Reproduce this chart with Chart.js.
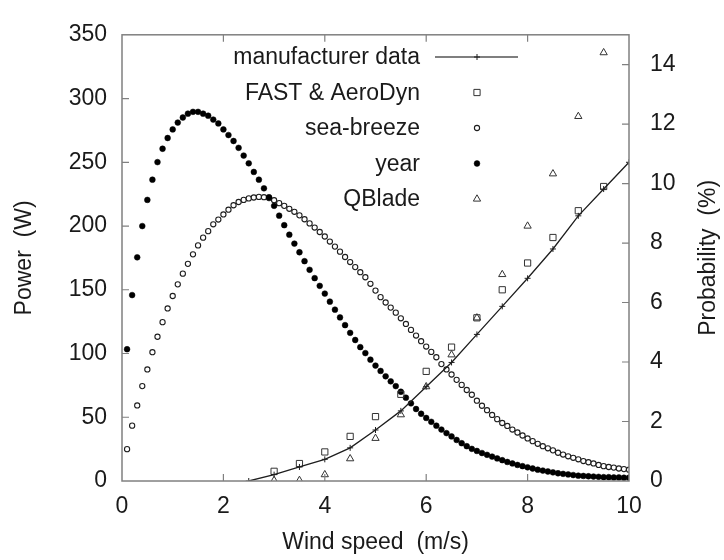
<!DOCTYPE html>
<html>
<head>
<meta charset="utf-8">
<script src="https://cdn.jsdelivr.net/npm/chart.js@4.4.1/dist/chart.umd.min.js"></script>
<style>
  html, body { margin: 0; padding: 0; background: #ffffff; }
  #wrap { width: 724px; height: 560px; }
</style>
</head>
<body>
<div id="wrap"><canvas id="c" width="724" height="560"></canvas></div>
<script>
// ---------------- data ----------------
const seriesLabels = ["manufacturer data", "FAST & AeroDyn", "sea-breeze", "year", "QBlade"];

const mfrSpeed = [2.5, 3.0, 3.5, 4.0, 4.5, 5.0, 5.5, 6.0, 6.5, 7.0, 7.5, 8.0, 8.5, 9.0, 9.5, 10.0];
const mfrPower = [0, 5, 11, 17, 26, 40, 55, 74, 93, 115, 137, 159, 182, 208, 229, 250];

const simSpeed = [3.0, 3.5, 4.0, 4.5, 5.0, 5.5, 6.0, 6.5, 7.0, 7.5, 8.0, 8.5, 9.0, 9.5];
const fastPower = [7.6, 13.7, 22.8, 35, 50.5, 68, 86, 105, 128, 150, 171, 191, 212, 231];
const qbladePower = [0.5, 0.5, 5, 17.5, 33.5, 52, 74, 99, 128, 162, 200, 241, 286, 336];

const probSpeed = [
  0.1, 0.2, 0.3, 0.4, 0.5, 0.6, 0.7, 0.8, 0.9, 1.0,
  1.1, 1.2, 1.3, 1.4, 1.5, 1.6, 1.7, 1.8, 1.9, 2.0,
  2.1, 2.2, 2.3, 2.4, 2.5, 2.6, 2.7, 2.8, 2.9, 3.0,
  3.1, 3.2, 3.3, 3.4, 3.5, 3.6, 3.7, 3.8, 3.9, 4.0,
  4.1, 4.2, 4.3, 4.4, 4.5, 4.6, 4.7, 4.8, 4.9, 5.0,
  5.1, 5.2, 5.3, 5.4, 5.5, 5.6, 5.7, 5.8, 5.9, 6.0,
  6.1, 6.2, 6.3, 6.4, 6.5, 6.6, 6.7, 6.8, 6.9, 7.0,
  7.1, 7.2, 7.3, 7.4, 7.5, 7.6, 7.7, 7.8, 7.9, 8.0,
  8.1, 8.2, 8.3, 8.4, 8.5, 8.6, 8.7, 8.8, 8.9, 9.0,
  9.1, 9.2, 9.3, 9.4, 9.5, 9.6, 9.7, 9.8, 9.9, 10.0
];
const seaBreezeProb = [
  1.07, 1.86, 2.54, 3.19, 3.75, 4.33, 4.85, 5.34, 5.80, 6.22,
  6.61, 6.97, 7.30, 7.62, 7.92, 8.18, 8.40, 8.63, 8.79, 8.96,
  9.12, 9.27, 9.38, 9.45, 9.50, 9.53, 9.55, 9.54, 9.51, 9.44,
  9.34, 9.25, 9.15, 9.05, 8.93, 8.80, 8.66, 8.52, 8.37, 8.22,
  8.05, 7.88, 7.71, 7.53, 7.36, 7.19, 7.02, 6.85, 6.63, 6.40,
  6.18, 6.00, 5.83, 5.66, 5.47, 5.28, 5.08, 4.89, 4.70, 4.52,
  4.34, 4.16, 3.93, 3.75, 3.58, 3.40, 3.23, 3.06, 2.90, 2.70,
  2.53, 2.38, 2.22, 2.08, 1.95, 1.85, 1.73, 1.63, 1.53, 1.43,
  1.34, 1.25, 1.17, 1.10, 1.03, 0.95, 0.89, 0.83, 0.78, 0.73,
  0.67, 0.63, 0.59, 0.54, 0.50, 0.47, 0.45, 0.42, 0.40, 0.38
];
const yearProb = [
  4.43, 6.25, 7.52, 8.57, 9.45, 10.13, 10.72, 11.17, 11.53, 11.82,
  12.05, 12.22, 12.35, 12.41, 12.41, 12.35, 12.28, 12.15, 12.02, 11.82,
  11.63, 11.43, 11.20, 10.94, 10.68, 10.39, 10.13, 9.84, 9.54, 9.25,
  8.92, 8.60, 8.28, 7.98, 7.69, 7.39, 7.10, 6.82, 6.56, 6.30,
  6.03, 5.76, 5.50, 5.24, 4.98, 4.74, 4.50, 4.30, 4.08, 3.88,
  3.70, 3.52, 3.35, 3.19, 3.00, 2.80, 2.61, 2.42, 2.26, 2.12,
  1.99, 1.86, 1.73, 1.61, 1.50, 1.38, 1.27, 1.17, 1.08, 1.01,
  0.94, 0.88, 0.82, 0.76, 0.70, 0.64, 0.59, 0.54, 0.50, 0.46,
  0.42, 0.38, 0.35, 0.32, 0.29, 0.26, 0.24, 0.22, 0.20, 0.18,
  0.17, 0.16, 0.15, 0.14, 0.13, 0.13, 0.12, 0.12, 0.11, 0.11
];

const xTickValues = [0, 2, 4, 6, 8, 10];
const powerTickValues = [0, 50, 100, 150, 200, 250, 300, 350];
const probTickValues = [0, 2, 4, 6, 8, 10, 12, 14];

const xTitle = "Wind speed  (m/s)";
const powerTitle = "Power  (W)";
const probTitle = "Probability  (%)";

// ---------------- styling ----------------
const FONT = "'Liberation Sans', Arial, Helvetica, sans-serif";
const FS = 23;
const TXT = "#1a1a1a";
const AXIS = "#808080";
const INK = "#1e1e1e";

function pts(xs, ys) { return xs.map((x, i) => ({ x: x, y: ys[i] })); }

const datasets = [
  {
    label: seriesLabels[0], data: pts(mfrSpeed, mfrPower), yAxisID: 'yP',
    showLine: true, borderColor: INK, borderWidth: 1.3, backgroundColor: INK,
    pointStyle: 'cross', pointRadius: 3, pointBorderWidth: 1, pointBorderColor: INK, order: 1
  },
  {
    label: seriesLabels[1], data: pts(simSpeed, fastPower), yAxisID: 'yP',
    showLine: false, pointStyle: 'rect', pointRadius: 4.4, pointBorderWidth: 1,
    pointBorderColor: '#333', pointBackgroundColor: 'rgba(255,255,255,0)', order: 2
  },
  {
    label: seriesLabels[2], data: pts(probSpeed, seaBreezeProb), yAxisID: 'yR',
    showLine: false, pointStyle: 'circle', pointRadius: 2.6, pointBorderWidth: 1.1,
    pointBorderColor: INK, pointBackgroundColor: '#ffffff', order: 4
  },
  {
    label: seriesLabels[3], data: pts(probSpeed, yearProb), yAxisID: 'yR',
    showLine: false, pointStyle: 'circle', pointRadius: 2.9, pointBorderWidth: 0.5,
    pointBorderColor: '#000', pointBackgroundColor: '#000', order: 3
  },
  {
    label: seriesLabels[4], data: pts(simSpeed, qbladePower), yAxisID: 'yP',
    showLine: false, pointStyle: 'triangle', pointRadius: 4.2, pointBorderWidth: 1,
    pointBorderColor: '#333', pointBackgroundColor: 'rgba(255,255,255,0)', order: 0
  }
];

function drawMarker(ctx, ds, x, y) {
  const r = ds.pointRadius;
  ctx.save();
  ctx.lineWidth = ds.pointBorderWidth;
  ctx.strokeStyle = ds.pointBorderColor;
  ctx.fillStyle = ds.pointBackgroundColor || ds.backgroundColor;
  ctx.beginPath();
  if (ds.pointStyle === 'circle') {
    ctx.arc(x, y, r, 0, Math.PI * 2);
    ctx.fill(); ctx.stroke();
  } else if (ds.pointStyle === 'rect') {
    const s = Math.SQRT1_2 * r;
    ctx.rect(x - s, y - s, 2 * s, 2 * s);
    ctx.stroke();
  } else if (ds.pointStyle === 'triangle') {
    for (let k = 0; k < 3; k++) {
      const a = k * 2 * Math.PI / 3;
      const px = x + Math.sin(a) * r, py = y - Math.cos(a) * r;
      if (k === 0) ctx.moveTo(px, py); else ctx.lineTo(px, py);
    }
    ctx.closePath(); ctx.stroke();
  } else if (ds.pointStyle === 'cross') {
    ctx.moveTo(x - r, y); ctx.lineTo(x + r, y);
    ctx.moveTo(x, y - r); ctx.lineTo(x, y + r);
    ctx.stroke();
  }
  ctx.restore();
}

const framePlugin = {
  id: 'frame',
  afterDatasetsDraw(chart) {
    const { ctx, chartArea: a, scales } = chart;
    const tl = 7;
    ctx.save();
    ctx.strokeStyle = AXIS;
    ctx.lineWidth = 1.5;
    ctx.strokeRect(a.left, a.top, a.right - a.left, a.bottom - a.top);
    ctx.lineWidth = 1.2;
    ctx.beginPath();
    scales.x.ticks.forEach(t => {
      const px = scales.x.getPixelForValue(t.value);
      if (px <= a.left + 1 || px >= a.right - 1) return;
      ctx.moveTo(px, a.bottom); ctx.lineTo(px, a.bottom - tl);
      ctx.moveTo(px, a.top); ctx.lineTo(px, a.top + tl);
    });
    scales.yP.ticks.forEach(t => {
      const py = scales.yP.getPixelForValue(t.value);
      if (py <= a.top + 1 || py >= a.bottom - 1) return;
      ctx.moveTo(a.left, py); ctx.lineTo(a.left + tl, py);
    });
    scales.yR.ticks.forEach(t => {
      const py = scales.yR.getPixelForValue(t.value);
      if (py <= a.top + 1 || py >= a.bottom - 1) return;
      ctx.moveTo(a.right, py); ctx.lineTo(a.right - tl, py);
    });
    ctx.stroke();
    ctx.restore();
  },
  afterDraw(chart) {
    const { ctx, chartArea: a } = chart;
    ctx.save();
    // right axis title, reading bottom-to-top
    ctx.font = FS + "px " + FONT;
    ctx.fillStyle = TXT;
    ctx.textAlign = 'center';
    ctx.textBaseline = 'middle';
    ctx.translate(709, (a.top + a.bottom) / 2);
    ctx.rotate(-Math.PI / 2);
    ctx.fillText(probTitle, 0, 0);
    ctx.restore();

    // legend
    ctx.save();
    ctx.font = FS + "px " + FONT;
    ctx.fillStyle = TXT;
    ctx.textAlign = 'right';
    ctx.textBaseline = 'middle';
    const textRight = 420, sampleX = 477, lineL = 435, lineR = 518;
    const rowY0 = 57, rowH = 35.5;
    chart.data.datasets.forEach((ds, i) => {
      const y = rowY0 + i * rowH;
      ctx.fillText(ds.label, textRight, y + 1);
      if (ds.showLine) {
        ctx.save();
        ctx.strokeStyle = '#555';
        ctx.lineWidth = 1.3;
        ctx.beginPath(); ctx.moveTo(lineL, y); ctx.lineTo(lineR, y); ctx.stroke();
        ctx.restore();
      }
      drawMarker(ctx, ds, sampleX, y);
    });
    ctx.restore();
  }
};

Chart.defaults.font.family = FONT;
Chart.defaults.color = TXT;

new Chart(document.getElementById('c'), {
  type: 'scatter',
  data: { datasets: datasets },
  options: {
    responsive: false,
    animation: false,
    devicePixelRatio: 1,
    layout: { padding: { top: 20, left: 0, right: 0, bottom: 0 } },
    plugins: { legend: { display: false }, tooltip: { enabled: false } },
    scales: {
      x: {
        type: 'linear', position: 'bottom', min: 0, max: 10,
        afterBuildTicks: s => { s.ticks = xTickValues.map(v => ({ value: v })); },
        afterFit: s => { s.height = 79; },
        grid: { display: false, drawTicks: false },
        border: { display: false },
        ticks: { font: { size: FS }, color: TXT, padding: 12, maxRotation: 0 },
        title: { display: true, text: xTitle, font: { size: FS }, color: TXT, padding: { top: 0, bottom: 4 } }
      },
      yP: {
        type: 'linear', position: 'left', min: 0, max: 350,
        afterBuildTicks: s => { s.ticks = powerTickValues.map(v => ({ value: v })); },
        afterFit: s => { s.width = 122; },
        grid: { display: false, drawTicks: false },
        border: { display: false },
        ticks: { font: { size: FS }, color: TXT, padding: 15 },
        title: { display: true, text: powerTitle, font: { size: FS }, color: TXT, padding: { top: 11, bottom: 0 } }
      },
      yR: {
        type: 'linear', position: 'right', min: 0, max: 15,
        afterBuildTicks: s => { s.ticks = probTickValues.map(v => ({ value: v })); },
        afterFit: s => { s.width = 95; },
        grid: { display: false, drawTicks: false },
        border: { display: false },
        ticks: { font: { size: FS }, color: TXT, padding: 21 }
      }
    }
  },
  plugins: [framePlugin]
});
</script>
</body>
</html>
